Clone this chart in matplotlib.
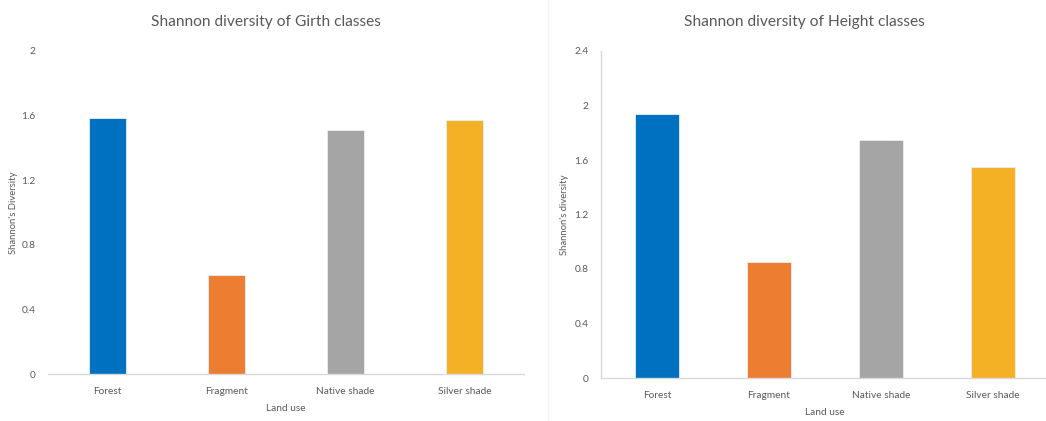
import matplotlib.pyplot as plt
from matplotlib.lines import Line2D

plt.rcParams['font.family'] = ['Lato', 'DejaVu Sans']

land_use = ['Forest', 'Fragment', 'Native shade', 'Silver shade']
girth_diversity = [1.585, 0.615, 1.51, 1.575]
height_diversity = [1.935, 0.855, 1.75, 1.545]
girth_ticks = [0, 0.4, 0.8, 1.2, 1.6, 2]
height_ticks = [0, 0.4, 0.8, 1.2, 1.6, 2, 2.4]
colors = ['#0070C0', '#ED7D31', '#A5A5A5', '#F5B125']
text_color = '#595959'
axis_color = '#D9D9D9'

fig = plt.figure(figsize=(10.46, 4.21), dpi=100)

# faint divider between the two charts
fig.add_artist(Line2D([548/1046, 548/1046], [0, 1], color='#F4F4F4', lw=0.8))


def draw_panel(ax, values, ticks, title, ylabel, bar_width, show_yaxis, ylabel_x, title_x):
    ax.bar(range(len(land_use)), values, width=bar_width, color=colors,
           edgecolor='#E8F0F8', linewidth=0.6)
    ax.set_xlim(-0.5, len(land_use) - 0.5)
    ax.set_ylim(0, ticks[-1])
    ax.set_yticks(ticks)
    ax.set_yticklabels([('%g' % t) for t in ticks])
    ax.set_xticks(range(len(land_use)))
    ax.set_xticklabels(land_use)
    for s in ['top', 'right']:
        ax.spines[s].set_visible(False)
    ax.spines['bottom'].set_color(axis_color)
    ax.spines['bottom'].set_linewidth(1.0)
    if show_yaxis:
        ax.spines['left'].set_color(axis_color)
        ax.spines['left'].set_linewidth(1.0)
    else:
        ax.spines['left'].set_visible(False)
    ax.tick_params(axis='both', length=0, labelsize=7.3, colors=text_color)
    ax.tick_params(axis='y', pad=9)
    ax.tick_params(axis='x', pad=9)
    ax.set_title(title, fontsize=11.2, color=text_color, pad=18, x=title_x)
    ax.set_xlabel('Land use', fontsize=7.3, color=text_color, labelpad=6)
    ax.set_ylabel(ylabel, fontsize=6.8, color=text_color)
    ax.yaxis.set_label_coords(ylabel_x, 0.5)


ax1 = fig.add_axes([48/1046, 1 - 374/421, 476/1046, 323/421])
draw_panel(ax1, girth_diversity, girth_ticks, 'Shannon diversity of Girth classes',
           "Shannon's Diversity", 0.31, False, -0.062, 0.458)

ax2 = fig.add_axes([601/1046, 1 - 378/421, 448/1046, 327/421])
draw_panel(ax2, height_diversity, height_ticks, 'Shannon diversity of Height classes',
           "Shannon's diversity", 0.40, True, -0.072, 0.455)

fig.savefig('out.png', dpi=100)
